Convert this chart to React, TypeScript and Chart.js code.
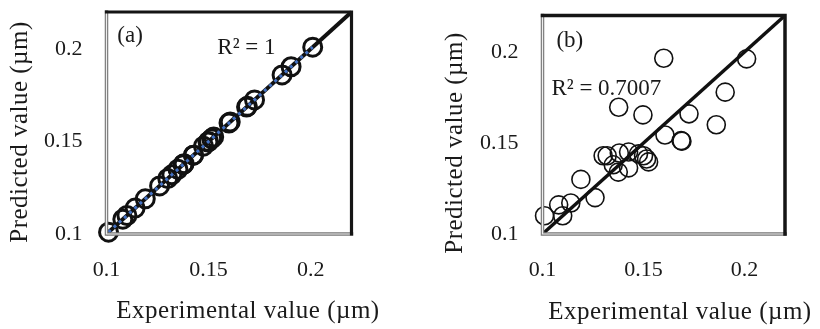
import React, { useEffect, useRef } from "react";
import { Chart, registerables } from "chart.js";

Chart.register(...registerables);

// ---------- data ----------
const experimental = [
  0.101, 0.108, 0.11, 0.114, 0.119, 0.126, 0.13, 0.132, 0.135, 0.1375, 0.138, 0.1377, 0.1426, 0.1426,
  0.1475, 0.15, 0.1497, 0.1515, 0.1525, 0.16, 0.1606, 0.1686, 0.169, 0.1725, 0.186, 0.1904, 0.201,
];
const predictedA = [
  0.101, 0.108, 0.11, 0.114, 0.119, 0.126, 0.13, 0.132, 0.135, 0.1375, 0.138, 0.1377, 0.1426, 0.1426,
  0.1475, 0.15, 0.1497, 0.1515, 0.1525, 0.16, 0.1606, 0.1686, 0.169, 0.1725, 0.186, 0.1904, 0.201,
];
const predictedB = [
  0.11, 0.116, 0.11, 0.117, 0.13, 0.12, 0.143, 0.143, 0.138, 0.134, 0.1445, 0.1696, 0.1363, 0.145,
  0.144, 0.143, 0.1654, 0.1412, 0.1396, 0.1965, 0.1544, 0.1513, 0.151, 0.166, 0.16, 0.1779, 0.1962,
];
const axisMin = 0.1;
const axisMax = 0.22;
const diagonal = [0.1, 0.22];
const tickValues = [0.1, 0.15, 0.2];
const tickLabels = ["0.1", "0.15", "0.2"];
const xTitle = "Experimental value (µm)";
const yTitle = "Predicted value (µm)";
const panelLabels = ["(a)", "(b)"];
const r2Labels = ["R² = 1", "R² = 0.7007"];
const panelLabelPos = [
  [0.1053, 0.207],
  [0.1069, 0.206],
];
const r2LabelPos = [
  [0.1543, 0.2005],
  [0.1044, 0.1797],
];

// ---------- style ----------
const FONT = "'Liberation Serif', 'Times New Roman', serif";
const TEXT = "#1a1a1a";

type Panel = {
  idx: number;
  predicted: number[];
  yAxisWidth: number;
  padRight: number;
  padTop: number;
  xAxisHeight: number;
  pointRadius: number;
  pointBorder: number;
  diagWidth: number;
  frameWidth: number;
  trend: boolean;
  xTitlePos: [number, number];
  yTitlePos: [number, number];
};

const panels: Panel[] = [
  {
    idx: 0,
    predicted: predictedA,
    yAxisWidth: 106.5,
    padRight: 58.5,
    padTop: 8.5,
    xAxisHeight: 95,
    pointRadius: 9,
    pointBorder: 3,
    diagWidth: 4,
    frameWidth: 3.2,
    trend: true,
    xTitlePos: [248, 311],
    yTitlePos: [20, 132],
  },
  {
    idx: 1,
    predicted: predictedB,
    yAxisWidth: 132.5,
    padRight: 35,
    padTop: 15.5,
    xAxisHeight: 95,
    pointRadius: 9,
    pointBorder: 1.6,
    diagWidth: 3.5,
    frameWidth: 3.5,
    trend: false,
    xTitlePos: [270, 312],
    yTitlePos: [45, 143],
  },
];

function fitLine(xs: number[], ys: number[]) {
  const n = xs.length;
  const mx = xs.reduce((a, b) => a + b, 0) / n;
  const my = ys.reduce((a, b) => a + b, 0) / n;
  let sxy = 0;
  let sxx = 0;
  for (let i = 0; i < n; i++) {
    sxy += (xs[i] - mx) * (ys[i] - my);
    sxx += (xs[i] - mx) * (xs[i] - mx);
  }
  const slope = sxy / sxx;
  const icpt = my - slope * mx;
  const x0 = Math.min(...xs);
  const x1 = Math.max(...xs);
  return [
    { x: x0, y: icpt + slope * x0 },
    { x: x1, y: icpt + slope * x1 },
  ];
}

function tickLabel(v: number) {
  const i = tickValues.findIndex((t) => Math.abs(t - v) < 1e-9);
  return i >= 0 ? tickLabels[i] : "";
}

function makeDecor(p: Panel) {
  return {
    id: "decor" + p.idx,
    afterDatasetsDraw(chart: any) {
      const { ctx, chartArea } = chart;
      const { left, right, top, bottom } = chartArea;
      ctx.save();
      ctx.lineCap = "square";
      // left & bottom gray double rule
      ctx.strokeStyle = "#777";
      ctx.lineWidth = 3.5;
      ctx.beginPath();
      ctx.moveTo(left, top);
      ctx.lineTo(left, bottom);
      ctx.lineTo(right, bottom);
      ctx.stroke();
      ctx.strokeStyle = "#eeeeee";
      ctx.lineWidth = 1.2;
      ctx.beginPath();
      ctx.moveTo(left, top);
      ctx.lineTo(left, bottom);
      ctx.lineTo(right, bottom);
      ctx.stroke();
      // top & right black
      ctx.strokeStyle = "#151515";
      ctx.lineWidth = p.frameWidth;
      ctx.beginPath();
      ctx.moveTo(left, top);
      ctx.lineTo(right, top);
      ctx.lineTo(right, bottom);
      ctx.stroke();
      ctx.restore();
    },
    afterDraw(chart: any) {
      const { ctx, scales } = chart;
      const xs = scales.x;
      const ys = scales.y;
      ctx.save();
      ctx.fillStyle = TEXT;
      ctx.textBaseline = "middle";
      // annotations
      ctx.font = `23px ${FONT}`;
      ctx.textAlign = "left";
      const pl = panelLabelPos[p.idx];
      ctx.fillText(panelLabels[p.idx], xs.getPixelForValue(pl[0]), ys.getPixelForValue(pl[1]));
      const rl = r2LabelPos[p.idx];
      ctx.fillText(r2Labels[p.idx], xs.getPixelForValue(rl[0]), ys.getPixelForValue(rl[1]));
      // axis titles
      ctx.font = `25px ${FONT}`;
      (ctx as any).letterSpacing = "0.5px";
      ctx.textAlign = "center";
      ctx.fillText(xTitle, p.xTitlePos[0], p.xTitlePos[1]);
      ctx.translate(p.yTitlePos[0], p.yTitlePos[1]);
      ctx.rotate(-Math.PI / 2);
      ctx.fillText(yTitle, 0, 0);
      ctx.restore();
    },
  };
}

function PanelChart({ p }: { p: Panel }) {
  const ref = useRef<HTMLCanvasElement | null>(null);
  useEffect(() => {
    if (!ref.current) return;
    const pts = experimental.map((x, i) => ({ x, y: p.predicted[i] }));
    const datasets: any[] = [];
    if (p.trend) {
      datasets.push({
        type: "line",
        data: fitLine(experimental, p.predicted),
        borderColor: "#4472C4",
        borderWidth: 3,
        borderDash: [3, 4],
        pointRadius: 0,
        order: 0,
      });
    }
    datasets.push({
      type: "scatter",
      data: pts,
      pointStyle: "circle",
      pointRadius: p.pointRadius,
      pointBorderWidth: p.pointBorder,
      pointBorderColor: "#111",
      pointBackgroundColor: "rgba(0,0,0,0)",
      clip: false,
      order: 1,
    });
    datasets.push({
      type: "line",
      data: diagonal.map((v) => ({ x: v, y: v })),
      borderColor: "#111",
      borderWidth: p.diagWidth,
      pointRadius: 0,
      clip: false,
      order: 2,
    });
    const tickFont = { family: FONT, size: 22 };
    const chart = new Chart(ref.current, {
      type: "scatter",
      data: { datasets },
      options: {
        responsive: false,
        animation: false,
        events: [],
        layout: { padding: { left: 0, right: p.padRight, top: p.padTop, bottom: 0 } },
        plugins: { legend: { display: false }, tooltip: { enabled: false } },
        scales: {
          x: {
            type: "linear",
            min: axisMin,
            max: axisMax,
            grid: { display: false, drawTicks: false },
            border: { display: false },
            ticks: {
              padding: 23,
              font: tickFont,
              color: TEXT,
              maxRotation: 0,
              autoSkip: false,
              callback: (v: any) => tickLabel(Number(v)),
            },
            afterBuildTicks: (s: any) => {
              s.ticks = tickValues.map((v) => ({ value: v }));
            },
            afterFit: (s: any) => {
              s.height = p.xAxisHeight;
              s.paddingLeft = 0;
              s.paddingRight = 0;
            },
          },
          y: {
            type: "linear",
            min: axisMin,
            max: axisMax,
            grid: { display: false, drawTicks: false },
            border: { display: false },
            ticks: {
              padding: 24,
              font: tickFont,
              color: TEXT,
              autoSkip: false,
              callback: (v: any) => tickLabel(Number(v)),
            },
            afterBuildTicks: (s: any) => {
              s.ticks = tickValues.map((v) => ({ value: v }));
            },
            afterFit: (s: any) => {
              s.width = p.yAxisWidth;
              s.paddingTop = 0;
              s.paddingBottom = 0;
            },
          },
        },
      } as any,
      plugins: [makeDecor(p)],
    });
    return () => chart.destroy();
  }, [p]);
  return (
    <canvas
      ref={ref}
      width={410}
      height={329}
      style={{ width: 410, height: 329, display: "block" }}
    />
  );
}

export default function App() {
  return (
    <div
      style={{
        position: "absolute",
        left: 0,
        top: 0,
        width: 820,
        height: 329,
        display: "flex",
        background: "#fff",
      }}
    >
      {panels.map((p) => (
        <PanelChart key={p.idx} p={p} />
      ))}
    </div>
  );
}
